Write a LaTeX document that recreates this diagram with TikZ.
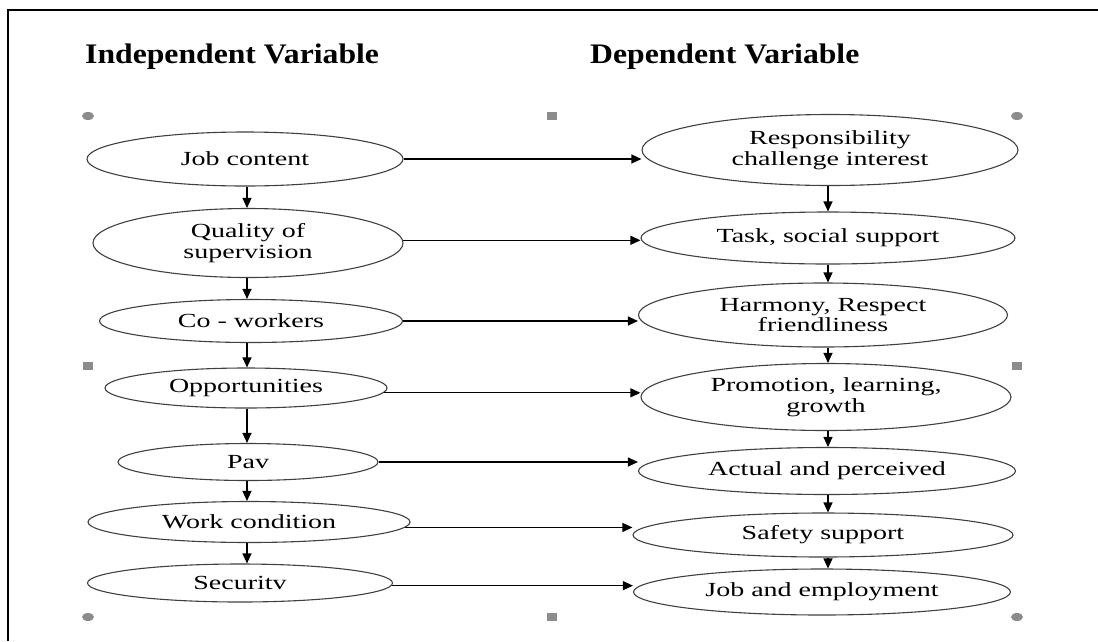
\documentclass[tikz,border=0pt]{standalone}
\usepackage{fontspec}
\setmainfont{Liberation Serif}
\newfontfamily\nodefont[FakeStretch=1.40]{Liberation Serif}
\newfontfamily\titlefont[FakeStretch=1.12]{Liberation Serif}
\usetikzlibrary{shapes.geometric,arrows.meta}
\begin{document}
\begin{tikzpicture}[x=1pt,y=-1pt,
  oval/.style={ellipse,draw=black!75,line width=1.1pt,inner sep=0pt,align=center,
    font=\nodefont\fontsize{20}{20.5}\selectfont},
  arr/.style={line width=1.1pt,-{Triangle[length=10pt,width=9pt]}},
  title/.style={anchor=base west,inner sep=0pt,font=\titlefont\bfseries\fontsize{28.3}{30}\selectfont},
  hdot/.style={ellipse,fill=black!45,minimum width=12pt,minimum height=8pt,inner sep=0pt},
  hsq/.style={rectangle,fill=black!45,minimum width=10pt,minimum height=8pt,inner sep=0pt}]
\useasboundingbox (0,0) rectangle (1098,641);
\draw[line width=2.6pt] (8,641) -- (8,10) -- (1098,10);

\node[title] (ti) at (85,63) {Independent Variable};
\node[title] (td) at (590,63) {Dependent Variable};

% selection handles
\node[hdot] (h1) at (88,116) {};
\node[hsq]  (h2) at (552,116) {};
\node[hdot] (h3) at (1017,116) {};
\node[hsq]  (h4) at (88,366) {};
\node[hsq]  (h5) at (1017,366) {};
\node[hdot] (h6) at (88,617) {};
\node[hsq]  (h7) at (552,617) {};
\node[hdot] (h8) at (1017,617) {};

% left column
\node[oval,minimum width=316pt,minimum height=54pt] (job)  at (245,159) {Job content};
\node[oval,minimum width=310pt,minimum height=69pt] (qual) at (248,243) {Quality of\\supervision};
\node[oval,minimum width=303pt,minimum height=43pt] (co)   at (251,321) {Co - workers};
\node[oval,minimum width=282pt,minimum height=40pt] (opp)  at (246,388) {Opportunities};
\node[oval,minimum width=260pt,minimum height=37pt] (pay)  at (248,462) {Pav};
\node[oval,minimum width=322pt,minimum height=41pt] (work) at (249,522) {Work condition};
\node[oval,minimum width=305pt,minimum height=38pt] (sec)  at (240,583) {Securitv};

% right column
\node[oval,minimum width=376pt,minimum height=71pt] (resp) at (830,150) {Responsibility\\challenge interest};
\node[oval,minimum width=374pt,minimum height=52pt] (task) at (828,238) {Task, social support};
\node[oval,minimum width=369pt,minimum height=64pt] (harm) at (823,315) {Harmony, Respect\\friendliness};
\node[oval,minimum width=370pt,minimum height=67pt] (prom) at (826,397) {Promotion, learning,\\growth};
\node[oval,minimum width=377pt,minimum height=47pt] (act)  at (827,471) {Actual and perceived};
\node[oval,minimum width=380pt,minimum height=44pt] (saf)  at (823,535) {Safety support};
\node[oval,minimum width=377pt,minimum height=46pt] (emp)  at (822,592) {Job and employment};

\coordinate (lc) at (247,0);
\coordinate (rc) at (828,0);

% vertical arrows left
\draw[arr] (job.south -| lc)  -- (qual.north -| lc);
\draw[arr] (qual.south -| lc) -- (co.north -| lc);
\draw[arr] (co.south -| lc)   -- (opp.north -| lc);
\draw[arr] (opp.south -| lc)  -- (pay.north -| lc);
\draw[arr] (pay.south -| lc)  -- (work.north -| lc);
\draw[arr] (work.south -| lc) -- (sec.north -| lc);

% vertical arrows right
\draw[arr] (resp.south -| rc) -- (task.north -| rc);
\draw[arr] (task.south -| rc) -- (harm.north -| rc);
\draw[arr] (harm.south -| rc) -- (prom.north -| rc);
\draw[arr] (prom.south -| rc) -- (act.north -| rc);
\draw[arr] (act.south -| rc)  -- (saf.north -| rc);
\draw[arr] (saf.south -| rc)  -- (emp.north -| rc);

% horizontal arrows
\draw[arr] (job.east)  -- (job.east -| resp.west);
\draw[arr] (qual.1.5)  -- (qual.1.5 -| task.west);
\draw[arr] (co.east)   -- (co.east -| harm.west);
\draw[arr] (opp.-2)    -- (opp.-2 -| prom.west);
\draw[arr] (pay.east)  -- (pay.east -| act.west);
\draw[arr] (work.-2)   -- (work.-2 -| saf.west);
\draw[arr] (sec.-1.5)  -- (sec.-1.5 -| emp.west);
\end{tikzpicture}
\end{document}
